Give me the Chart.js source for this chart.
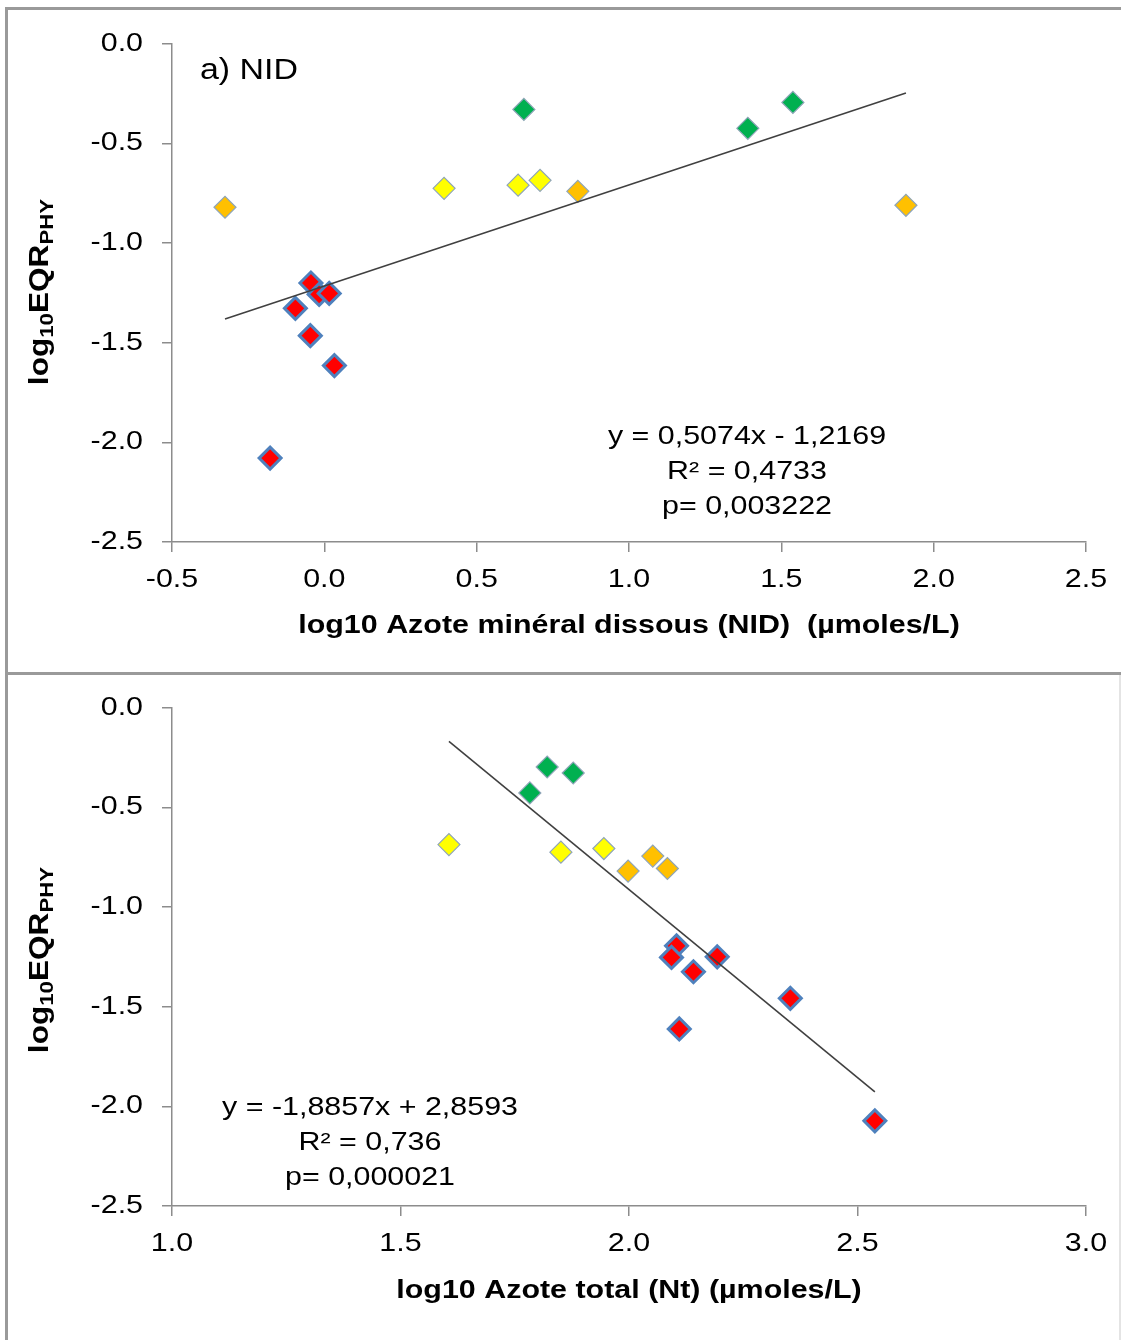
<!DOCTYPE html>
<html>
<head>
<meta charset="utf-8">
<script src="https://cdn.jsdelivr.net/npm/chart.js@4.4.1/dist/chart.umd.min.js"></script>
<style>
  body { margin: 0; background: #fff; width: 1121px; height: 1340px; position: relative; overflow: hidden; }
  .frame { position: absolute; background: #9a9a9a; }
  canvas { position: absolute; }
</style>
</head>
<body>
<div class="frame" style="left:5px; top:7px; width:1116px; height:3px;"></div>
<div class="frame" style="left:5px; top:672px; width:1116px; height:3px;"></div>
<div class="frame" style="left:5px; top:7px; width:3px; height:1333px;"></div>
<div class="frame" style="left:1119px; top:675px; width:2px; height:665px; background:#e4e4e4;"></div>
<canvas id="chartNid" width="1110" height="660" style="left:9px; top:9px;"></canvas>
<canvas id="chartNt" width="1110" height="665" style="left:9px; top:673px;"></canvas>
<script>
// log10 EQR_PHY vs log10 nitrogen — two scatter panels with trend lines

Chart.defaults.font.family = "'Liberation Sans', Arial, sans-serif";
Chart.defaults.color = '#000000';

// ─── Data: panel a) NID ─────────────────────────────────────────────────────
const nidGreenX = [0.655, 1.390, 1.538];
const nidGreenY = [-0.33, -0.425, -0.295];
const nidYellowX = [0.393, 0.636, 0.708];
const nidYellowY = [-0.726, -0.71, -0.686];
const nidOrangeX = [-0.326, 0.832, 1.909];
const nidOrangeY = [-0.821, -0.741, -0.811];
const nidRedX = [-0.044, -0.017, 0.016, -0.095, -0.046, 0.033, -0.178];
const nidRedY = [-1.201, -1.258, -1.253, -1.328, -1.465, -1.615, -2.079];
const nidTrendX = [-0.326, 1.909];
const nidTrendY = [-1.382, -0.248];
const nidEquation = ['y = 0,5074x - 1,2169', 'R² = 0,4733', 'p= 0,003222'];

// ─── Data: panel Nt ─────────────────────────────────────────────────────────
const ntGreenX = [1.821, 1.878, 1.783];
const ntGreenY = [-0.298, -0.328, -0.428];
const ntYellowX = [1.606, 1.851, 1.945];
const ntYellowY = [-0.687, -0.725, -0.707];
const ntOrangeX = [1.998, 2.052, 2.084];
const ntOrangeY = [-0.82, -0.745, -0.807];
const ntRedX = [2.104, 2.093, 2.141, 2.193, 2.353, 2.110, 2.538];
const ntRedY = [-1.195, -1.253, -1.325, -1.25, -1.458, -1.612, -2.073];
const ntTrendX = [1.606, 2.538];
const ntTrendY = [-0.169, -1.927];
const ntEquation = ['y = -1,8857x + 2,8593', 'R² = 0,736', 'p= 0,000021'];

const COLORS = {
  green: '#00B050',
  yellow: '#FFFF00',
  orange: '#FFC000',
  red: '#FF0000',
  redBorder: '#4F81BD',
  softBorder: '#8FA5B8',
  trend: '#404040',
  axis: '#8C8C8C'
};

// the source renders its text wider than Arial at the same height
const TEXT_STRETCH = 1.17;

function widenText(ctx, sx) {
  const orig = ctx.fillText;
  ctx.fillText = function(text, x, y, maxWidth) {
    this.save();
    this.translate(x, y);
    this.scale(sx, 1);
    if (maxWidth === undefined) orig.call(this, text, 0, 0);
    else orig.call(this, text, 0, 0, maxWidth / sx);
    this.restore();
  };
}

const toPoints = (xs, ys) => xs.map((x, i) => ({ x: x, y: ys[i] }));

function markerSet(xs, ys, fill, border, borderWidth) {
  return {
    type: 'scatter',
    data: toPoints(xs, ys),
    backgroundColor: fill,
    borderColor: border,
    borderWidth: borderWidth,
    pointStyle: 'rectRot',
    pointRadius: 11,
    pointHoverRadius: 11
  };
}

// Draws y title with subscripts, panel label and regression text
const panelText = {
  id: 'panelText',
  afterDraw(chart, args, opts) {
    const ctx = chart.ctx;
    ctx.save();
    ctx.fillStyle = '#000';

    // y-axis title: log10EQRPHY
    const parts = [
      { t: 'log', size: 27, dy: 0 },
      { t: '10', size: 19, dy: 7 },
      { t: 'EQR', size: 27, dy: 0 },
      { t: 'PHY', size: 19, dy: 7 }
    ];
    let total = 0;
    parts.forEach(p => {
      ctx.font = `bold ${p.size}px 'Liberation Sans', Arial, sans-serif`;
      p.w = ctx.measureText(p.t).width * TEXT_STRETCH;
      total += p.w;
    });
    ctx.translate(opts.yTitleX, opts.yTitleY);
    ctx.rotate(-Math.PI / 2);
    ctx.textBaseline = 'middle';
    ctx.textAlign = 'left';
    let cx = -total / 2;
    parts.forEach(p => {
      ctx.font = `bold ${p.size}px 'Liberation Sans', Arial, sans-serif`;
      ctx.fillText(p.t, cx, p.dy);
      cx += p.w;
    });
    ctx.setTransform(1, 0, 0, 1, 0, 0);

    if (opts.label) {
      ctx.font = "29px 'Liberation Sans', Arial, sans-serif";
      ctx.textAlign = 'left';
      ctx.textBaseline = 'middle';
      ctx.fillText(opts.label, opts.labelX, opts.labelY);
    }

    ctx.font = "26px 'Liberation Sans', Arial, sans-serif";
    ctx.textAlign = 'center';
    ctx.textBaseline = 'middle';
    opts.lines.forEach((line, i) => {
      ctx.fillText(line, opts.eqX, opts.eqY + i * opts.eqStep);
    });
    ctx.restore();
  }
};

function renderPanel(canvasId, d) {
  const ctx = document.getElementById(canvasId).getContext('2d');
  widenText(ctx, TEXT_STRETCH);
  return new Chart(ctx, {
    type: 'scatter',
    data: {
      datasets: [
        {
          type: 'line',
          data: toPoints(d.trendX, d.trendY),
          borderColor: COLORS.trend,
          borderWidth: 1.6,
          pointRadius: 0,
          fill: false
        },
        markerSet(d.greenX, d.greenY, COLORS.green, COLORS.softBorder, 1.2),
        markerSet(d.yellowX, d.yellowY, COLORS.yellow, COLORS.softBorder, 1.2),
        markerSet(d.orangeX, d.orangeY, COLORS.orange, COLORS.softBorder, 1.2),
        markerSet(d.redX, d.redY, COLORS.red, COLORS.redBorder, 3)
      ]
    },
    options: {
      responsive: false,
      animation: false,
      layout: { padding: { top: 31, right: 33, left: 0, bottom: 0 } },
      plugins: {
        legend: { display: false },
        tooltip: { enabled: false },
        panelText: d.text
      },
      scales: {
        x: {
          type: 'linear',
          min: d.xMin,
          max: d.xMax,
          afterFit: s => { s.height = d.xAxisHeight; },
          grid: { drawOnChartArea: false, drawTicks: true, tickLength: 10, color: COLORS.axis, lineWidth: 1.5 },
          border: { display: true, color: COLORS.axis, width: 1.5 },
          ticks: {
            stepSize: 0.5,
            padding: 12,
            font: { size: 26 },
            color: '#000',
            callback: v => v.toFixed(1)
          },
          title: {
            display: true,
            text: d.xTitle,
            font: { size: 26, weight: 'bold' },
            color: '#000',
            padding: { top: 0, bottom: d.xTitlePad }
          }
        },
        y: {
          type: 'linear',
          min: -2.5,
          max: 0,
          afterFit: s => { s.width = 163; },
          grid: { drawOnChartArea: false, drawTicks: true, tickLength: 10, color: COLORS.axis, lineWidth: 1.5 },
          border: { display: true, color: COLORS.axis, width: 1.5 },
          ticks: {
            stepSize: 0.5,
            padding: 19,
            font: { size: 26 },
            color: '#000',
            callback: v => v.toFixed(1)
          }
        }
      }
    },
    plugins: [panelText]
  });
}

renderPanel('chartNid', {
  greenX: nidGreenX, greenY: nidGreenY,
  yellowX: nidYellowX, yellowY: nidYellowY,
  orangeX: nidOrangeX, orangeY: nidOrangeY,
  redX: nidRedX, redY: nidRedY,
  trendX: nidTrendX, trendY: nidTrendY,
  xMin: -0.5, xMax: 2.5,
  xAxisHeight: 127, xTitlePad: 28,
  xTitle: 'log10 Azote minéral dissous (NID)  (µmoles/L)',
  text: {
    yTitleX: 32, yTitleY: 283,
    label: 'a) NID', labelX: 191, labelY: 62,
    lines: nidEquation, eqX: 738, eqY: 428, eqStep: 35
  }
});

renderPanel('chartNt', {
  greenX: ntGreenX, greenY: ntGreenY,
  yellowX: ntYellowX, yellowY: ntYellowY,
  orangeX: ntOrangeX, orangeY: ntOrangeY,
  redX: ntRedX, redY: ntRedY,
  trendX: ntTrendX, trendY: ntTrendY,
  xMin: 1.0, xMax: 3.0,
  xAxisHeight: 132, xTitlePad: 32,
  xTitle: 'log10 Azote total (Nt) (µmoles/L)',
  text: {
    yTitleX: 32, yTitleY: 287,
    label: '', labelX: 0, labelY: 0,
    lines: ntEquation, eqX: 361, eqY: 435, eqStep: 35
  }
});
</script>
</body>
</html>
